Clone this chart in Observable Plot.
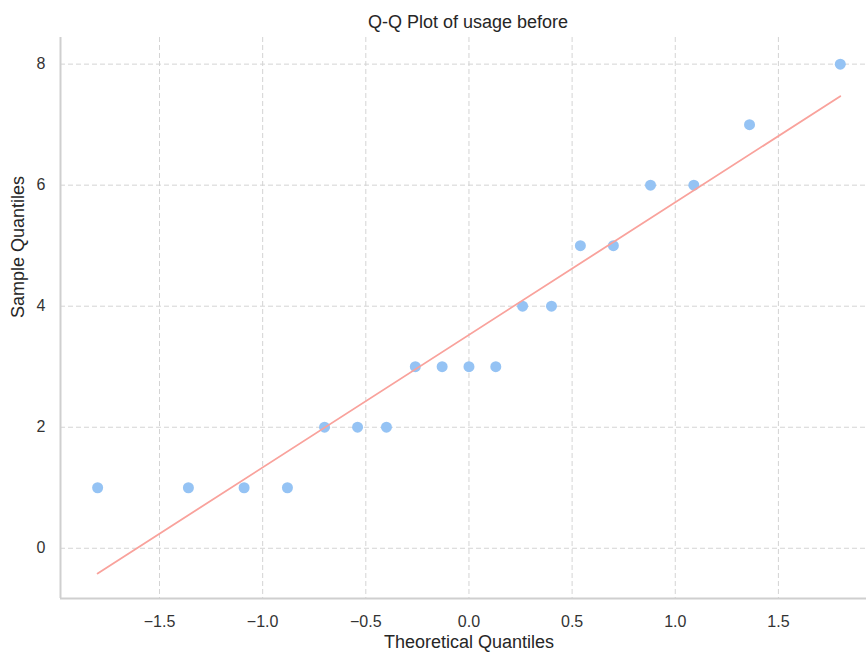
<!DOCTYPE html>
<html>
<head>
<meta charset="utf-8">
<script src="https://cdn.jsdelivr.net/npm/d3@7"></script>
<script src="https://cdn.jsdelivr.net/npm/@observablehq/plot@0.6"></script>
<style>
  html, body { margin: 0; padding: 0; background: #fff; }
  body { width: 866px; height: 655px; overflow: hidden; font-family: "Liberation Sans", Arial, sans-serif; }
  #title {
    width: 866px; height: 20px; padding-top: 12px;
    line-height: 20px; font-size: 18px; color: #262626;
    text-align: center; text-indent: 70px; white-space: nowrap;
  }
</style>
</head>
<body>
<div id="title">Q-Q Plot of usage before</div>
<div id="chart"></div>
<script>
// Normal probability plot: ordered sample values vs. theoretical normal quantiles
const theoreticalQuantiles = [-1.80, -1.36, -1.09, -0.88, -0.70, -0.54, -0.40, -0.26, -0.13, 0.00,
                              0.13, 0.26, 0.40, 0.54, 0.70, 0.88, 1.09, 1.36, 1.80];
const sampleQuantiles = [1, 1, 1, 1, 2, 2, 2, 3, 3, 3, 3, 4, 4, 5, 5, 6, 6, 7, 8];

const xTicks = [-1.5, -1.0, -0.5, 0.0, 0.5, 1.0, 1.5];
const yTicks = [0, 2, 4, 6, 8];
const xLabel = "Theoretical Quantiles";
const yLabel = "Sample Quantiles";

const points = theoreticalQuantiles.map((q, i) => ({q, s: sampleQuantiles[i]}));

const xDomain = [-1.98, 1.927];
const yDomain = [-0.83, 8.44];
const fmt = d => d.toFixed(1).replace("-", "\u2212");

const gridStyle = {stroke: "#d4d4d4", strokeOpacity: 1, strokeWidth: 1, strokeDasharray: "5,3"};
const spine = {stroke: "#cfcfcf", strokeWidth: 2};

const chart = Plot.plot({
  width: 866,
  height: 623,
  marginLeft: 60,
  marginRight: 0,
  marginTop: 5,
  marginBottom: 57,
  style: {fontFamily: "\"Liberation Sans\", Arial, sans-serif", color: "#333", background: "#fff"},
  x: {domain: xDomain},
  y: {domain: yDomain},
  marks: [
    Plot.gridX(xTicks, gridStyle),
    Plot.gridY(yTicks, gridStyle),
    Plot.ruleX([xDomain[0]], spine),
    Plot.ruleY([yDomain[0]], spine),
    Plot.axisX(xTicks, {tickSize: 0, tickPadding: 17, fontSize: 16, tickFormat: fmt, label: null}),
    Plot.axisY(yTicks, {tickSize: 0, tickPadding: 15, fontSize: 16, tickFormat: d => String(d), label: null}),
    Plot.text([xLabel], {x: () => 0, frameAnchor: "bottom", lineAnchor: "top", dy: 37, fontSize: 18, fill: "#262626"}),
    Plot.text([yLabel], {frameAnchor: "left", rotate: -90, dx: -42, fontSize: 18, fill: "#262626"}),
    Plot.dot(points, {x: "q", y: "s", r: 5.5, fill: "#95c3f4", stroke: "none"}),
    Plot.linearRegressionY(points, {x: "q", y: "s", ci: 0, stroke: "#f9a29c", strokeWidth: 1.8})
  ]
});
document.getElementById("chart").appendChild(chart);
</script>
</body>
</html>
